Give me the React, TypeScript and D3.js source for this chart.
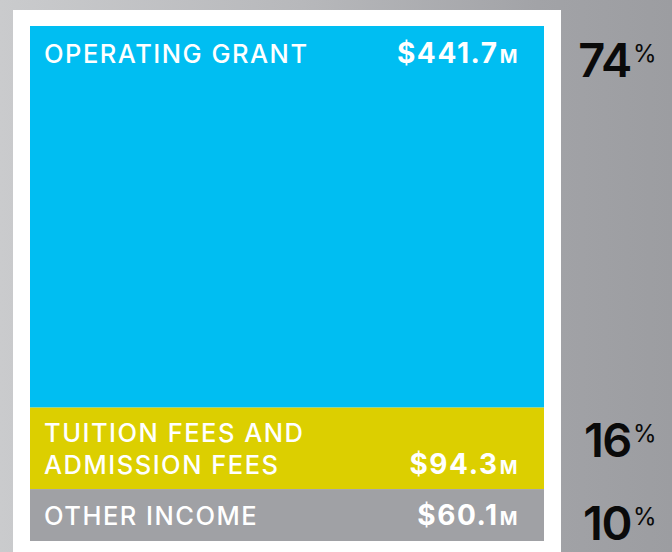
import React from 'react';
import * as d3 from 'd3';

// revenue breakdown, $ millions
const categories = ['OPERATING GRANT', 'TUITION FEES AND\nADMISSION FEES', 'OTHER INCOME'];
const values = [441.7, 94.3, 60.1];
const valueLabels = ['$441.7', '$94.3', '$60.1'];
const percents = [74, 16, 10];
const colors = ['#00bef2', '#dccf00', '#a0a1a5'];

const width = 672;
const height = 552;
const box = { left: 30, right: 544, top: 26, bottom: 541 };
const pctNudge = [0, -8, 8];
const font = 'Inter, "Noto Sans", sans-serif';

export default function App() {
  const total = d3.sum(values);
  const y = d3.scaleLinear().domain([0, total]).range([box.top, box.bottom]);
  const starts = values.map((_, i) => d3.sum(values.slice(0, i)));

  const rows = values.map((v, i) => {
    const y0 = y(starts[i]);
    const y1 = y(starts[i] + v);
    const lines = categories[i].split('\n');
    const big = y1 - y0 > 150;
    const mid = (y0 + y1) / 2;
    // baseline of the last label line
    const lastBase = big ? y0 + 37 : mid + 10 + ((lines.length - 1) * 32) / 2;
    return { v, i, y0, y1, lines, lastBase, mid, big };
  });

  return (
    <svg width={width} height={height} style={{ position: 'absolute', left: 0, top: 0 }}>
      <defs>
        <linearGradient id="bg" x1="0" x2="1" y1="0" y2="0">
          <stop offset="0%" stopColor="#cacbcd" />
          <stop offset="45%" stopColor="#b7b8bb" />
          <stop offset="80%" stopColor="#a2a3a7" />
          <stop offset="100%" stopColor="#9c9da1" />
        </linearGradient>
      </defs>
      <rect width={width} height={height} fill="url(#bg)" />
      <rect x={13} y={10} width={561 - 13} height={height} fill="#ffffff" />
      {rows.map((r) => (
        <g key={r.i}>
          <rect x={box.left} y={r.y0} width={box.right - box.left} height={r.y1 - r.y0} fill={colors[r.i]} />
          <text fill="#fff" fontFamily={font} fontSize={25.5} fontWeight={500} letterSpacing={1.5}>
            {r.lines.map((l, j) => (
              <tspan key={j} x={44} y={r.lastBase - (r.lines.length - 1 - j) * 32}>{l}</tspan>
            ))}
          </text>
          <text x={519} y={r.lastBase} fill="#fff" fontFamily={font} fontSize={28} fontWeight={700}
            textAnchor="end" letterSpacing={1.6}>
            {valueLabels[r.i]}
            <tspan fontSize={19} dx={1}>M</tspan>
          </text>
          <text x={655} y={(r.big ? r.y0 + 51 : r.mid + 17) + pctNudge[r.i]} fill="#0a0a0a"
            fontFamily={font} fontSize={47} fontWeight={600} textAnchor="end" letterSpacing={-1.5}>
            {percents[r.i]}
            <tspan fontSize={24} fontWeight={400} dx={2} dy={-15}>%</tspan>
          </text>
        </g>
      ))}
    </svg>
  );
}
